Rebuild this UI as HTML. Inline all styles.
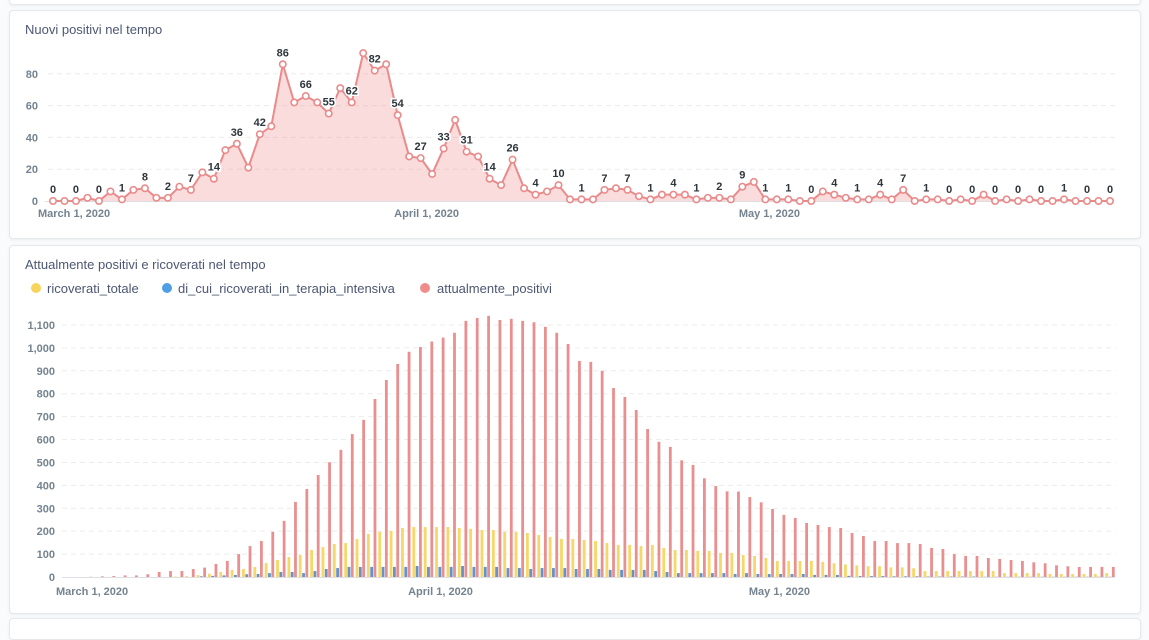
<!DOCTYPE html>
<html><head><meta charset="utf-8"><style>
html,body{margin:0;padding:0;background:#f9fbfc;}
body{width:1149px;height:621px;overflow:hidden;position:relative;font-family:"Liberation Sans",sans-serif;}
.card{position:absolute;background:#fff;border:1px solid #e6e9ec;border-radius:4px;box-shadow:0 1px 3px rgba(0,0,0,0.06);}
svg text{font-family:"Liberation Sans",sans-serif;}
</style></head><body>
<div class="card" style="left:9px;top:-10px;width:1130px;height:13px;"></div>
<div class="card" style="left:9px;top:10px;width:1130px;height:227px;"></div>
<div class="card" style="left:9px;top:245px;width:1130px;height:367px;"></div>
<div class="card" style="left:9px;top:618px;width:1130px;height:20px;"></div>
<svg id="chart" width="1149" height="621" style="position:absolute;left:0;top:0">
<text x="25" y="34" font-size="13" fill="#4c5773">Nuovi positivi nel tempo</text>
<text x="25" y="269" font-size="13" fill="#4c5773">Attualmente positivi e ricoverati nel tempo</text>
<g>
<circle cx="36" cy="288" r="5" fill="#f9d45c"/>
<text x="47" y="293" font-size="13" fill="#4c5773">ricoverati_totale</text>
<circle cx="167" cy="288" r="5" fill="#509ee3"/>
<text x="178" y="293" font-size="13" fill="#4c5773">di_cui_ricoverati_in_terapia_intensiva</text>
<circle cx="425" cy="288" r="5" fill="#ef8c8c"/>
<text x="437" y="293" font-size="13" fill="#4c5773">attualmente_positivi</text>
</g>
<g id="top"></g><g id="bottom"></g>
</svg>
<script>
const nuovi=[0,0,0,2,0,6,1,7,8,2,2,9,7,18,14,32,36,21,42,47,86,62,66,62,55,71,62,93,82,86,54,28,27,17,33,51,31,28,14,10,26,8,4,6,10,1,1,1,7,8,7,3,1,4,4,4,1,2,2,1,9,12,1,1,1,0,0,6,4,2,1,1,4,1,7,0,1,1,0,1,0,4,0,1,0,1,0,0,1,0,0,0,0];
const topTicks=[0,20,40,60,80];
const ricoverati=[0,0,0,0,0,0,0,0,0,0,2,4,8,14,22,31,35,44,61,74,87,96,118,131,144,148,166,188,197,201,214,218,218,218,218,214,210,205,205,197,197,192,183,175,166,166,162,157,148,140,140,135,140,127,118,118,114,114,105,105,96,92,83,70,70,70,70,66,60,55,51,47,47,42,42,38,26,26,26,26,26,26,26,17,17,17,17,13,13,13,13,13,17];
const terapia=[0,0,0,0,0,0,0,0,0,0,0,0,3,5,7,9,12,13,17,22,22,17,26,35,39,44,44,44,44,44,44,48,44,44,44,48,44,44,44,39,39,35,39,39,39,35,35,35,31,31,31,31,26,22,17,17,17,17,17,13,17,13,13,13,13,13,9,9,9,5,4,4,4,3,3,3,2,2,2,2,2,1,1,1,1,1,1,1,1,1,1,1,1];
const positivi=[0,0,1,3,4,7,7,12,22,26,26,35,41,57,70,100,135,157,197,245,328,384,445,501,555,624,686,777,860,930,983,1004,1028,1045,1066,1118,1131,1140,1122,1127,1118,1112,1092,1066,1017,943,939,900,825,786,729,646,590,568,509,489,431,397,374,373,349,326,297,271,258,236,227,218,214,192,179,157,157,148,148,144,127,122,100,92,92,83,79,74,70,64,60,51,47,44,44,44,44];
const bottomTicks=[0,100,200,300,400,500,600,700,800,900,1000,1100];
const dateLabels=["March 1, 2020","April 1, 2020","May 1, 2020"];
const dateIdx=[0,31,61];

const NS="http://www.w3.org/2000/svg";
function mk(tag,attrs,parent){const e=document.createElementNS(NS,tag);for(const k in attrs)e.setAttribute(k,attrs[k]);parent.appendChild(e);return e;}
const fmt=v=>v.toLocaleString('en-US');

const gT=document.getElementById('top');
const tx=i=>53+i*(1110-53)/92;
const ty=v=>201-v*1.59;
topTicks.forEach(t=>{
  if(t>0){const l=mk('line',{x1:48,x2:1118,y1:ty(t),y2:ty(t),stroke:'#ececec','stroke-dasharray':'5,4'},gT);
  
  }
  const tt=mk('text',{x:38,y:ty(t)+4,'text-anchor':'end','font-size':'11','font-weight':'bold',fill:'#74838f'},gT);
  tt.textContent=t;
  
  
});
const ax=mk('line',{x1:45,x2:1113,y1:201.5,y2:201.5,stroke:'#dcdfe3'},gT);


let d='M'+tx(0)+','+ty(nuovi[0]);
nuovi.forEach((v,i)=>{if(i)d+=' L'+tx(i)+','+ty(v);});
const area=mk('path',{d:d+' L'+tx(nuovi.length-1)+','+ty(0)+' L'+tx(0)+','+ty(0)+'Z',fill:'#ef8c8c','fill-opacity':'0.3'},gT);


const line=mk('path',{d:d,fill:'none',stroke:'#ea8a8a','stroke-width':'2'},gT);


nuovi.forEach((v,i)=>{
  const c=mk('circle',{cx:tx(i),cy:ty(v),r:3.2,fill:'#fff',stroke:'#ea8a8a','stroke-width':'1.6'},gT);
  
  
});
nuovi.forEach((v,i)=>{
  if(i%2)return;
  const t=mk('text',{x:tx(i),y:ty(v)-8,'text-anchor':'middle','font-size':'11','font-weight':'bold',fill:'#2e353b',stroke:'#fff','stroke-width':'3','paint-order':'stroke'},gT);
  t.textContent=v;
  
  
});
dateIdx.forEach((di,k)=>{
  const t=mk('text',{x:tx(di)-15,y:217,'font-size':'11','font-weight':'bold',fill:'#74838f'},gT);
  t.textContent=dateLabels[k];
  
  
});

const gB=document.getElementById('bottom');
const bx=i=>65+i*(1110-65)/92;
const by=v=>577-v*0.2291;
bottomTicks.forEach(t=>{
  if(t>0){const l=mk('line',{x1:62,x2:1116,y1:by(t),y2:by(t),stroke:'#ececec','stroke-dasharray':'5,4'},gB);
  
  }
  const tt=mk('text',{x:55,y:by(t)+4,'text-anchor':'end','font-size':'11','font-weight':'bold',fill:'#74838f'},gB);
  tt.textContent=fmt(t);
  
  
});
const bw=2.8;
function bars(arr,off,color,name){
  arr.forEach((v,i)=>{
    const h=v*0.2291;
    const r=mk('rect',{x:bx(i)+off-bw/2,y:577-h,width:bw,height:h,fill:color},gB);
    
    
  });
}
bars(ricoverati,-3.3,'#f6d769','bar-ricoverati-totale');
bars(terapia,0,'#6592c9','bar-terapia-intensiva');
bars(positivi,3.3,'#ea8f8f','bar-attualmente-positivi');
const bax=mk('line',{x1:62,x2:1115,y1:577.5,y2:577.5,stroke:'#dcdfe3'},gB);


dateIdx.forEach((di,k)=>{
  const t=mk('text',{x:bx(di)-9,y:595,'font-size':'11','font-weight':'bold',fill:'#74838f'},gB);
  t.textContent=dateLabels[k];
  
  
});
</script>
</body></html>
